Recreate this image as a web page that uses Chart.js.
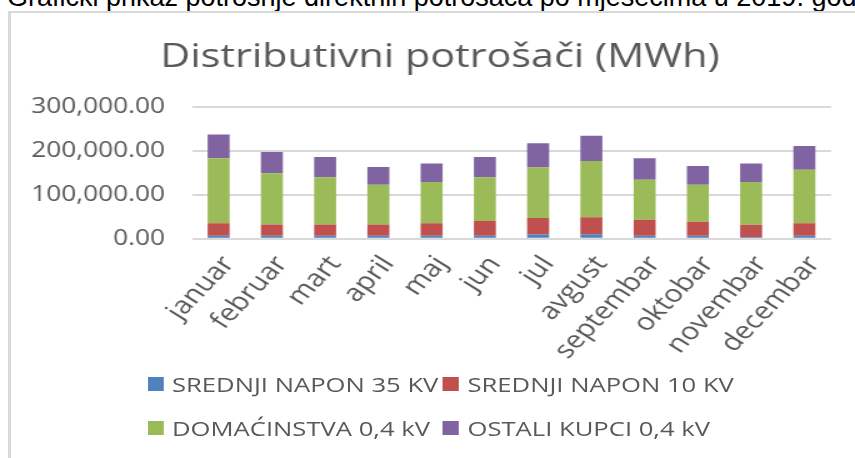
<!DOCTYPE html>
<html>
<head>
<meta charset="utf-8">
<script src="https://cdn.jsdelivr.net/npm/chart.js@4.4.1/dist/chart.umd.min.js"></script>
<style>
  body { margin: 0; width: 855px; height: 458px; overflow: hidden; background: #fff; position: relative; }
  #caption { position: absolute; left: 7px; top: -16px; font: 27px/27px "Liberation Sans", Arial, sans-serif; color: #000; white-space: nowrap; }
  #frame { position: absolute; left: 8px; top: 11px; width: 900px; height: 500px; border-left: 3px solid #d9d9d9; border-top: 2px solid #d9d9d9; }
  /* the source picture is stretched sideways, so the whole chart is too */
  #stage { position: absolute; left: 0; top: 0; width: 704px; height: 458px; transform: scaleX(1.25); transform-origin: 0 0; }
  #chart { position: absolute; left: 0; top: 0; }
  #legend { position: absolute; left: 117.6px; top: 362px; display: grid; grid-template-columns: 236.4px auto;
            font: 20.5px "Open Sans", sans-serif; color: #595959; }
  .item { display: flex; align-items: center; height: 44px; white-space: nowrap; }
  .box { width: 13.3px; height: 13.3px; margin-right: 6.7px; flex: none; }
</style>
</head>
<body>
<div id="caption">Grafički prikaz potrošnje direktnih potrošača po mjesecima u 2019. godini</div>
<div id="frame"></div>
<div id="stage">
  <canvas id="chart" width="704" height="458"></canvas>
  <div id="legend"></div>
</div>
<script>
const months = ['januar', 'februar', 'mart', 'april', 'maj', 'jun', 'jul', 'avgust', 'septembar', 'oktobar', 'novembar', 'decembar'];
const seriesNames = ['SREDNJI NAPON 35 KV', 'SREDNJI NAPON 10 KV', 'DOMAĆINSTVA 0,4 kV', 'OSTALI KUPCI 0,4 kV'];
const colors = ['#4F81BD', '#C0504D', '#9BBB59', '#8064A2'];

// MWh
const srednji35 = [6800, 6800, 6900, 6700, 6800, 6900, 9800, 9900, 6800, 6700, 3600, 6800];
const srednji10 = [28200, 25200, 25100, 25300, 28200, 33100, 37200, 39100, 36200, 31900, 28200, 28200];
const domacinstva = [147600, 116500, 107400, 90700, 93800, 99400, 115000, 127500, 91000, 84100, 97000, 121800];
const ostali = [54400, 48500, 46200, 40300, 42200, 46200, 54700, 57500, 48600, 42300, 42200, 53800];

const yTicks = [0, 100000, 200000, 300000];

const series = [srednji35, srednji10, domacinstva, ostali];
const textColor = '#595959';
const font = 'Open Sans';

const chart = new Chart(document.getElementById('chart'), {
  type: 'bar',
  data: {
    labels: months,
    datasets: series.map((values, i) => ({
      label: seriesNames[i],
      data: values,
      backgroundColor: colors[i],
      borderWidth: 0,
      categoryPercentage: 1,
      barPercentage: 0.413
    }))
  },
  options: {
    responsive: false,
    animation: false,
    layout: { padding: { left: 0, right: 0, top: 0, bottom: 74.3 } },
    plugins: {
      legend: { display: false },
      tooltip: { enabled: false },
      title: {
        display: true,
        text: 'Distributivni potrošači (MWh)',
        color: textColor,
        font: { family: font, size: 33, weight: 'normal', lineHeight: 1.2 },
        padding: { top: 38.2, bottom: 28.9 }
      }
    },
    scales: {
      x: {
        stacked: true,
        grid: { display: false },
        border: { display: false },
        ticks: { color: textColor, font: { family: font, size: 24 }, minRotation: 52, maxRotation: 52, padding: 4, labelOffset: 8, autoSkip: false },
        afterFit: scale => { scale.height = 145; }
      },
      y: {
        stacked: true,
        min: 0,
        max: 300000,
        afterBuildTicks: scale => { scale.ticks = yTicks.map(v => ({ value: v })); },
        grid: { color: '#d9d9d9', lineWidth: 2, drawTicks: false },
        border: { display: false },
        ticks: {
          color: textColor,
          font: { family: font, size: 21 },
          padding: 21.6,
          callback: v => v.toLocaleString('en-US', { minimumFractionDigits: 2, maximumFractionDigits: 2 })
        },
        afterFit: scale => { scale.width = 153.6; }
      },
      // empty strip on the right so the title sits where it does in the original
      spacer: {
        axis: 'y',
        position: 'right',
        grid: { display: false },
        border: { display: false },
        ticks: { display: false },
        afterFit: scale => { scale.width = 39.2; }
      }
    }
  }
});

// legend laid out as a two column grid, like the original
const legend = document.getElementById('legend');
chart.data.datasets.forEach(ds => {
  const item = document.createElement('div');
  item.className = 'item';
  const box = document.createElement('span');
  box.className = 'box';
  box.style.background = ds.backgroundColor;
  item.appendChild(box);
  item.appendChild(document.createTextNode(ds.label));
  legend.appendChild(item);
});
</script>
</body>
</html>
